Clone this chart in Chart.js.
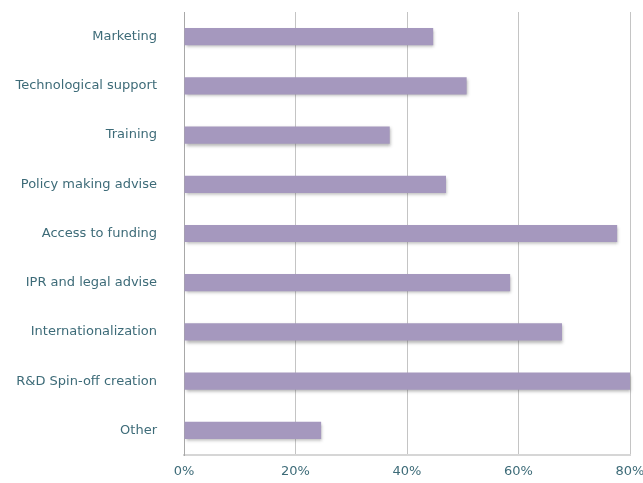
<!DOCTYPE html>
<html>
<head>
<meta charset="utf-8">
<script src="https://cdn.jsdelivr.net/npm/chart.js@4"></script>
<style>
  html, body { margin: 0; padding: 0; background: #fff; }
  #wrap { width: 643px; height: 483px; position: relative; }
</style>
</head>
<body>
<div id="wrap"><canvas id="chart"></canvas></div>
<script>
// ─── Data ─────────────────────────────────────────────
const categories = [
  'Marketing', 'Technological support', 'Training', 'Policy making advise',
  'Access to funding', 'IPR and legal advise', 'Internationalization',
  'R&D Spin-off creation', 'Other'
];
const shares = [44.7, 50.7, 36.9, 47.0, 77.7, 58.5, 67.8, 80.0, 24.6];
const xTicks = [0, 20, 40, 60, 80];

// soft drop shadow under bars
const barShadow = {
  id: 'barShadow',
  beforeDatasetDraw(chart) {
    const ctx = chart.ctx;
    ctx.save();
    ctx.shadowColor = 'rgba(90,90,90,0.45)';
    ctx.shadowBlur = 3;
    ctx.shadowOffsetX = 1;
    ctx.shadowOffsetY = 2;
  },
  afterDatasetDraw(chart) {
    chart.ctx.restore();
  }
};

const labelColor = '#3d6b78';
const font = { family: 'DejaVu Sans', size: 13 };

new Chart(document.getElementById('chart'), {
  type: 'bar',
  data: {
    labels: categories,
    datasets: [{
      data: shares,
      backgroundColor: '#a598be',
      borderWidth: 0,
      categoryPercentage: 0.7,
      barPercentage: 0.5,
      clip: false
    }]
  },
  plugins: [barShadow],
  options: {
    indexAxis: 'y',
    responsive: true,
    maintainAspectRatio: false,
    animation: false,
    layout: { padding: { top: 12, left: 0, right: 13, bottom: 0 } },
    plugins: { legend: { display: false }, tooltip: { enabled: false } },
    scales: {
      x: {
        min: 0, max: 80,
        afterBuildTicks: s => { s.ticks = xTicks.map(v => ({ value: v })); },
        afterFit: s => { s.height = 28; s.paddingLeft = 0; s.paddingRight = 0; },
        grid: { color: '#c4c4c4', lineWidth: 1, drawTicks: false },
        border: { display: true, color: '#d6d6d6', width: 2 },
        ticks: { color: labelColor, font, padding: 9, callback: v => v + '%' }
      },
      y: {
        afterFit: s => { s.width = 184; s.paddingTop = 0; s.paddingBottom = 0; },
        grid: { display: false, drawTicks: false },
        border: { display: true, color: '#a8a8a8', width: 1 },
        ticks: { color: labelColor, font, padding: 27 }
      }
    }
  }
});
</script>
</body>
</html>
